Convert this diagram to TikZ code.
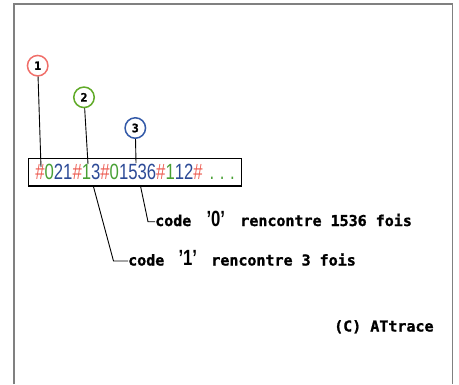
\documentclass[tikz,border=0pt]{standalone}
\usepackage{fontspec}
\newfontfamily\plotfont[BoldFeatures={FakeBold=1.2}]{DejaVu Sans Mono}
\newfontfamily\stripfont[FakeStretch=0.76]{Liberation Sans}
\usetikzlibrary{positioning}

\definecolor{hashred}{RGB}{236,92,82}
\definecolor{codegreen}{RGB}{72,160,52}
\definecolor{countblue}{RGB}{44,74,150}
\definecolor{ringred}{RGB}{240,110,105}
\definecolor{ringgreen}{RGB}{96,170,40}
\definecolor{ringblue}{RGB}{52,90,168}

\newcommand\hsh{\textcolor{hashred}{\#}}
\newcommand\cde[1]{\textcolor{codegreen}{#1}}
\newcommand\cnt[1]{\textcolor{countblue}{#1}}

\begin{document}
\begin{tikzpicture}[x=1pt,y=-1pt,
  plottext/.style={font=\plotfont\bfseries\fontsize{15}{15}\selectfont, anchor=base west, inner sep=0pt},
  num/.style={circle, draw=#1, line width=1.5pt, minimum size=20.5pt, inner sep=0pt,
    font=\plotfont\bfseries\fontsize{11.5}{11.5}\selectfont},
  lead/.style={line width=0.9pt}]

\useasboundingbox (0,0) rectangle (459,384);

%% cadre
\draw[gray, line width=1.2pt] (14,384) |- (452.5,4) -- (452.5,384);

%% chaine codee
\node[draw, line width=1.3pt, minimum width=213.4pt, minimum height=27.3pt, inner sep=0pt,
  font=\stripfont\fontsize{22}{22}\selectfont] (strip) at (135,172.3)
  {\hsh\cde{0}\cnt{21}\hsh\cde{1}\cnt{3}\hsh\cde{0}\cnt{1536}\hsh\cde{1}\cnt{12}\hsh\hspace{7pt}\cde{.\hspace{5.5pt}.\hspace{5.5pt}.}};

%% reperes
\node[num=ringred] (c1) at (37.7,65.7) {1};
\node[num=ringgreen] (c2) at (84,97.3) {2};
\node[num=ringblue] (c3) at (135.3,128) {3};

\coordinate (p1) at (41,167);
\coordinate (p2) at (88,164);
\coordinate (p3) at (136,163);

\draw[lead] (c1) -- (p1);
\draw[lead] (c2) -- (p2);
\draw[lead] (c3) -- (p3);

%% explications
\node[plottext] (t0) at (155,226) {code\makebox[49pt]{\stripfont\fontsize{22}{22}\selectfont\textbf{’}0\textbf{’}}rencontre 1536 fois};
\node[plottext] (t1) at (128,265.5) {code\makebox[47pt]{\stripfont\fontsize{22}{22}\selectfont\textbf{’}1\textbf{’}}rencontre 3 fois};

\coordinate (s0) at (140.5,186);
\coordinate (k0) at (148,221.7);
\coordinate (s1) at (93.3,186);
\coordinate (k1) at (113.5,261);

\draw[lead] (s0) -- (k0) -- (k0 -| t0.west);
\draw[lead] (s1) -- (k1) -- (k1 -| t1.west);

% copyright
\node[plottext] (copy) at (334,331.5) {(C) ATtrace};

\end{tikzpicture}
\end{document}
